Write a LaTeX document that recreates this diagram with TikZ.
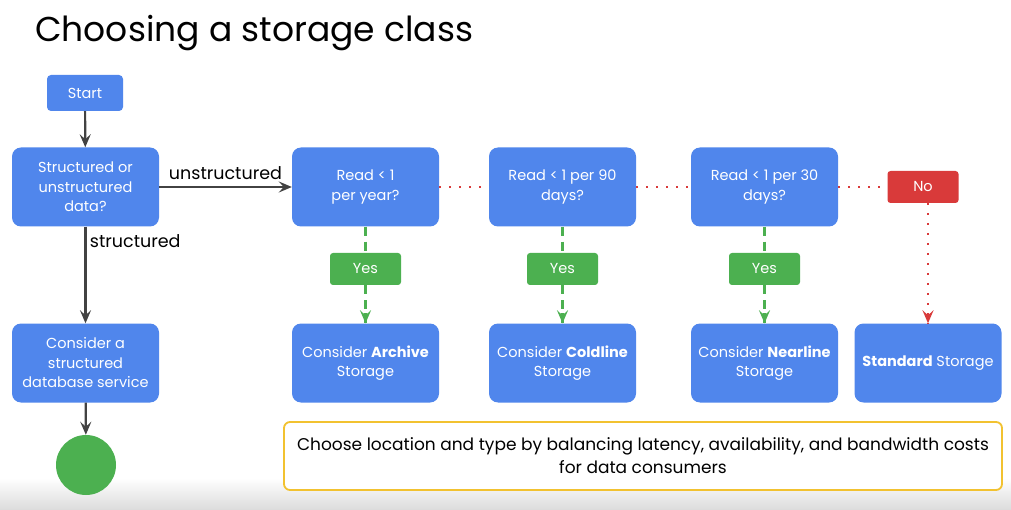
\documentclass[tikz,border=0pt]{standalone}
\usepackage{fontspec}
\setmainfont{Poppins}
\usetikzlibrary{arrows.meta}
\usepackage{xcolor}

\definecolor{gblue}{HTML}{5086EC}
\definecolor{ggreen}{HTML}{4CB050}
\definecolor{gred}{HTML}{D93A3A}
\definecolor{gyellow}{HTML}{F2C230}
\definecolor{gdark}{HTML}{424242}

\tikzset{
  boite/.style={fill=gblue, rounded corners=9pt, minimum width=147pt, minimum height=79pt,
    text=white, align=center, font=\fontsize{14.5}{19.5}\selectfont, inner sep=2pt},
  petit/.style={rounded corners=3pt, minimum width=71pt, minimum height=32pt,
    text=white, font=\fontsize{14.5}{18}\selectfont, inner sep=0pt},
  pointe/.style={-{Stealth[length=13pt,width=11pt,inset=5pt]}},
  fleche/.style={draw=gdark, line width=2.2pt, pointe},
  oui/.style={draw=ggreen, line width=2.6pt, dash pattern=on 9pt off 6pt},
  non/.style={draw=gred, line width=2.2pt, dash pattern=on 2.2pt off 7.8pt},
  lbl/.style={font=\fontsize{17.5}{20}\selectfont, text=black}
}

\begin{document}
\begin{tikzpicture}[x=1pt,y=-1pt]
      \useasboundingbox (0,0) rectangle (1011,510);
      \fill[white] (0,0) rectangle (1011,510);
      \shade[top color=white, bottom color=black!14] (0,478) rectangle (1011,510);

      \def\yQ{187}
      \def\yY{269}
      \def\yB{363}

      % Titre
      \node[anchor=base west, inner sep=0pt, font=\fontsize{34.5}{40}\selectfont] (titre) at (35,42) {Choosing a storage class};

      % Colonne de gauche
      \node[boite, minimum width=76pt, minimum height=36pt, rounded corners=4pt] (start) at (85,93) {Start};
      \node[boite] (struct) at (85.5,\yQ) {Structured or\\unstructured\\data?};
      \node[boite] (base) at (85.5,\yB) {Consider a\\structured\\database service};
      \node[circle, fill=ggreen, minimum size=60pt, inner sep=0pt] (fin) at (86,465) {};

      % Questions
      \node[boite] (an) at (365.5,\yQ) {Read < 1\\per year?};
      \node[boite] (q90) at (562.5,\yQ) {Read < 1 per 90\\days?};
      \node[boite] (q30) at (764.5,\yQ) {Read < 1 per 30\\days?};
      \node[petit, fill=gred] (non) at (923,\yQ) {No};

      % Oui
      \node[petit, fill=ggreen] (oui1) at (365.5,\yY) {Yes};
      \node[petit, fill=ggreen] (oui2) at (562.5,\yY) {Yes};
      \node[petit, fill=ggreen] (oui3) at (764.5,\yY) {Yes};

      % Classes
      \node[boite] (archive) at (365.5,\yB) {Consider \textbf{Archive}\\Storage};
      \node[boite] (coldline) at (562.5,\yB) {Consider \textbf{Coldline}\\Storage};
      \node[boite] (nearline) at (764.5,\yB) {Consider \textbf{Nearline}\\Storage};
      \node[boite] (standard) at (928,\yB) {\textbf{Standard} Storage};

      % Note
      \node[draw=gyellow, fill=white, line width=1.8pt, rounded corners=6pt, minimum width=718pt,
        minimum height=68pt, align=center, font=\fontsize{17}{23}\selectfont] (note) at (643,456)
        {Choose location and type by balancing latency, availability, and bandwidth costs\\for data consumers};

      % Fleches
      \draw[fleche] (start) -- (struct);
      \draw[fleche] (struct) -- node[lbl, above, yshift=3pt] {unstructured} (an);
      \draw[fleche] (struct) -- node[lbl, right, pos=0.15] {structured} (base);
      \draw[fleche] (base) -- (fin);

      \draw[non] (an) -- (q90);
      \draw[non] (q90) -- (q30);
      \draw[non] (q30) -- (non);
      \draw[non] (non.south -| standard) -- (standard);
      \draw[gred, line width=2.2pt, pointe] ([yshift=10pt]standard.north) -- (standard.north);

      \draw[oui] (an) -- (oui1);
      \draw[oui] (q90) -- (oui2);
      \draw[oui] (q30) -- (oui3);
      \draw[oui] (oui1) -- (archive);
      \draw[oui] (oui2) -- (coldline);
      \draw[oui] (oui3) -- (nearline);
      \foreach \b in {archive, coldline, nearline}
        \draw[ggreen, line width=2.6pt, pointe] ([yshift=10pt]\b.north) -- (\b.north);
    \end{tikzpicture}
\end{document}
